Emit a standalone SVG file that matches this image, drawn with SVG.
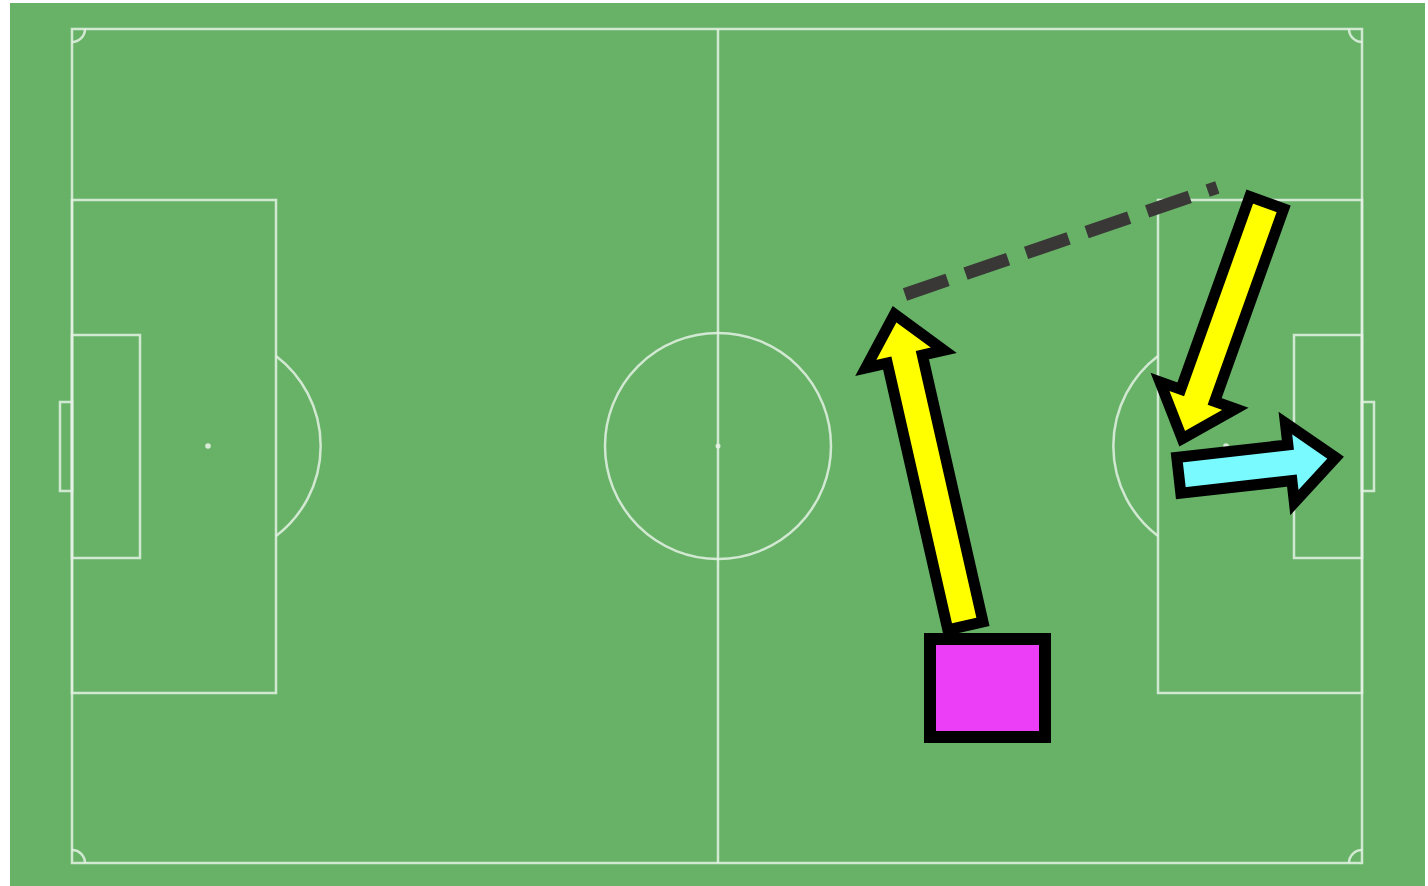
<svg xmlns="http://www.w3.org/2000/svg" width="1428" height="886" viewBox="0 0 1428 886">
  <style>
    .line { fill: none; stroke: #e4f1e4; stroke-opacity: 0.85; stroke-width: 2.5; }
    .spot { fill: #e4f1e4; fill-opacity: 0.9; }
    .arrow { stroke: #000; stroke-width: 11; stroke-linejoin: miter; stroke-miterlimit: 10; }
  </style>
  <rect x="0" y="0" width="1428" height="886" fill="#ffffff"/>
  <g id="pitch">
    <rect x="10" y="3" width="1415" height="883" fill="#68b268"/>
    <rect class="line" x="72" y="29" width="1290" height="834"/>
    <line class="line" x1="718" y1="29" x2="718" y2="863"/>
    <circle class="line" cx="718" cy="446" r="113"/>
    <circle class="spot" cx="718" cy="446" r="2.5"/>
    <!-- left end -->
    <rect class="line" x="72" y="200" width="204" height="493"/>
    <rect class="line" x="72" y="335" width="68" height="223"/>
    <rect class="line" x="60" y="402" width="12" height="89"/>
    <circle class="spot" cx="208" cy="446" r="2.8"/>
    <path class="line" d="M276,356 A113,113 0 0 1 276,536"/>
    <!-- right end -->
    <rect class="line" x="1158" y="200" width="204" height="493"/>
    <rect class="line" x="1294" y="335" width="68" height="223"/>
    <rect class="line" x="1362" y="402" width="12" height="89"/>
    <circle class="spot" cx="1226" cy="446" r="2.8"/>
    <path class="line" d="M1158,356 A113,113 0 0 0 1158,536"/>
    <!-- corner arcs -->
    <path class="line" d="M85,29 A13,13 0 0 1 72,42"/>
    <path class="line" d="M1349,29 A13,13 0 0 0 1362,42"/>
    <path class="line" d="M72,850 A13,13 0 0 1 85,863"/>
    <path class="line" d="M1349,863 A13,13 0 0 1 1362,850"/>
  </g>
  <g id="player-box">
    <rect x="930" y="639" width="115" height="98" fill="#ec3ef6" stroke="#000" stroke-width="12"/>
  </g>
  <g id="connectors">
    <line x1="905" y1="294.5" x2="1217.3" y2="187.3" stroke="#3a3836" stroke-width="13" stroke-dasharray="45 19" stroke-linecap="butt"/>
    <polygon class="arrow" fill="#ffff00" transform="translate(894.6,314.2) rotate(-102.8)" points="0,0 -46,-40 -46,-18 -319.7,-18 -319.7,18 -46,18 -46,40"/>
    <polygon class="arrow" fill="#ffff00" transform="translate(1182.2,438.7) rotate(109.7)" points="0,0 -46,-40 -46,-18 -250.7,-18 -250.7,18 -46,18 -46,40"/>
    <polygon class="arrow" fill="#78faff" transform="translate(1335.6,457.6) rotate(-6.45)" points="0,0 -46,-40 -46,-18 -157.8,-18 -157.8,18 -46,18 -46,40"/>
  </g>
</svg>
